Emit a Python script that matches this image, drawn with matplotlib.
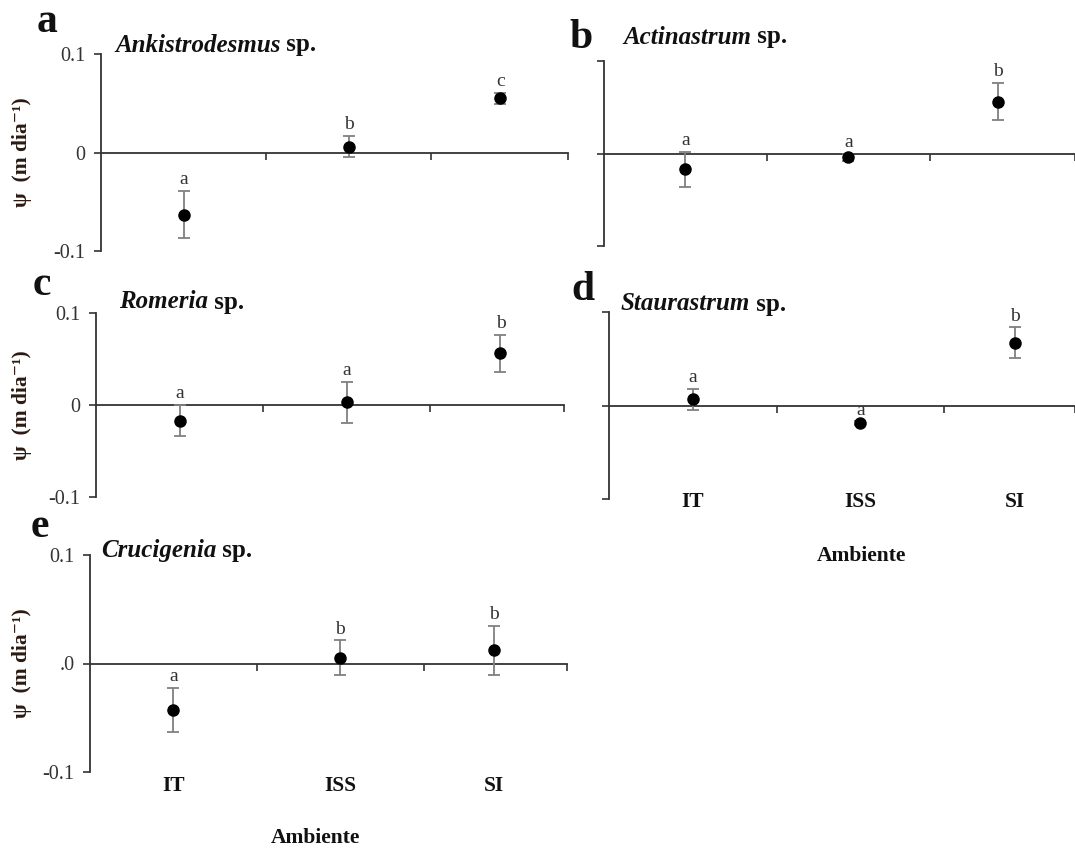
import matplotlib
matplotlib.use("Agg")
import matplotlib.pyplot as plt
from matplotlib.text import Annotation

W, H = 1075, 849
SERIF = ["Liberation Serif", "DejaVu Serif"]
plt.rcParams["font.family"] = SERIF

CATEGORIES = ["IT", "ISS", "SI"]
PANEL_LETTERS = ["a", "b", "c", "d", "e"]
GENERA = ["Ankistrodesmus", "Actinastrum", "Romeria", "Staurastrum", "Crucigenia"]

MEAN_A = [-0.063, 0.006, 0.055]
ERR_A = [0.024, 0.0105, 0.0055]
SIG_A = ["a", "b", "c"]

MEAN_B = [-0.017, -0.004, 0.056]
ERR_B = [0.019, 0.004, 0.020]
SIG_B = ["a", "a", "b"]

MEAN_C = [-0.017, 0.003, 0.056]
ERR_C = [0.017, 0.0225, 0.020]
SIG_C = ["a", "a", "b"]

MEAN_D = [0.0065, -0.019, 0.067]
ERR_D = [0.0115, 0.002, 0.0165]
SIG_D = ["a", "a", "b"]

MEAN_E = [-0.043, 0.0055, 0.012]
ERR_E = [0.0205, 0.0157, 0.023]
SIG_E = ["a", "b", "b"]

YTICK_LABELS_A = ["-0.1", "0", "0.1"]
YTICK_LABELS_E = ["-0.1", ".0", "0.1"]

# layout (pixels): left, right, top, bottom of each axis box, and x extent
BOXES = [
    (101, 568, 54, 251),
    (604, 1075, 61, 246),
    (96, 564, 313, 497),
    (609, 1075, 312, 499),
    (90, 567, 555, 772),
]
XMAX = [2.83, 2.89, 2.80, 2.78, 2.86]
XPOS = [0.5, 1.5, 2.42]
LETTER_POS = [(47, 22), (581, 38), (42, 285), (583, 290), (40, 527)]
TITLE_POS = [(115, 45), (623, 37), (119, 302), (621, 304), (101, 551)]


def px(x, y):
    return x / W, 1 - y / H


def draw_panel(fig, i, means, errs, sigs, ylabels, xlabels):
    l, r, t, b = BOXES[i]
    ax = fig.add_axes([l / W, 1 - b / H, (r - l) / W, (b - t) / H])
    ax.set_xlim(0, XMAX[i])
    ax.set_ylim(-0.1, 0.1)
    for s in ("top", "right"):
        ax.spines[s].set_visible(False)
    ax.spines["bottom"].set_position(("data", 0))
    for s in ("left", "bottom"):
        ax.spines[s].set_color("#333333")
        ax.spines[s].set_linewidth(1.3)
    ax.set_yticks([-0.1, 0, 0.1])
    ax.set_yticklabels(ylabels if ylabels else ["", "", ""])
    ax.set_xticks([1, 2, XMAX[i]])
    ax.set_xticklabels(["", "", ""])
    ax.tick_params(direction="out", length=5, width=1.2, color="#333333",
                   labelsize=14.5, labelcolor="#333333", pad=6)
    ax.patch.set_alpha(0)

    ax.errorbar(XPOS, means, yerr=errs, fmt="none", ecolor="#808080",
                elinewidth=1.3, capsize=4, capthick=1.3, zorder=3, clip_on=False)
    ax.plot(XPOS, means, "o", color="black", ms=8, zorder=4, clip_on=False)
    for x, m, e, s in zip(XPOS, means, errs, sigs):
        ax.annotate(s, xy=(x, m + e), xytext=(0, 2), textcoords="offset points",
                    ha="center", va="bottom", fontsize=14, color="#333333")

    if xlabels is not None:
        for x, c in zip(XPOS, CATEGORIES):
            ax.annotate(c, xy=(x, -0.1), xytext=(0, -xlabels), textcoords="offset points",
                        ha="center", va="center", fontsize=15.5, fontweight="bold",
                        color="#111111", annotation_clip=False)

    fig.text(*px(*LETTER_POS[i]), PANEL_LETTERS[i], ha="center", va="center",
             fontsize=30, fontweight="bold", color="#111111")
    g = fig.text(*px(*TITLE_POS[i]), GENERA[i], ha="left", va="center", fontsize=18,
                 fontweight="bold", fontstyle="italic", color="#111111")
    fig.add_artist(Annotation(" sp.", xy=(1, 0), xycoords=g, va="bottom",
                              ha="left", fontsize=18, fontweight="bold",
                              color="#111111"))

    if ylabels:
        fig.text(22 / W, 1 - ((t + b) / 2) / H, "ψ  (m dia⁻¹)", rotation=90,
                 ha="center", va="center", fontsize=15.5, fontweight="bold",
                 color="#2a1a12")
    return ax


fig = plt.figure(figsize=(W / 100, H / 100), dpi=100)
draw_panel(fig, 0, MEAN_A, ERR_A, SIG_A, YTICK_LABELS_A, None)
draw_panel(fig, 1, MEAN_B, ERR_B, SIG_B, None, None)
draw_panel(fig, 2, MEAN_C, ERR_C, SIG_C, YTICK_LABELS_A, None)
draw_panel(fig, 3, MEAN_D, ERR_D, SIG_D, None, 2)
draw_panel(fig, 4, MEAN_E, ERR_E, SIG_E, YTICK_LABELS_E, 10)

fig.text(*px(861, 556), "Ambiente", ha="center", va="center", fontsize=15.5,
         fontweight="bold", color="#111111")
fig.text(*px(315, 838), "Ambiente", ha="center", va="center", fontsize=15.5,
         fontweight="bold", color="#111111")

fig.savefig("out.png", dpi=100, facecolor="white")
